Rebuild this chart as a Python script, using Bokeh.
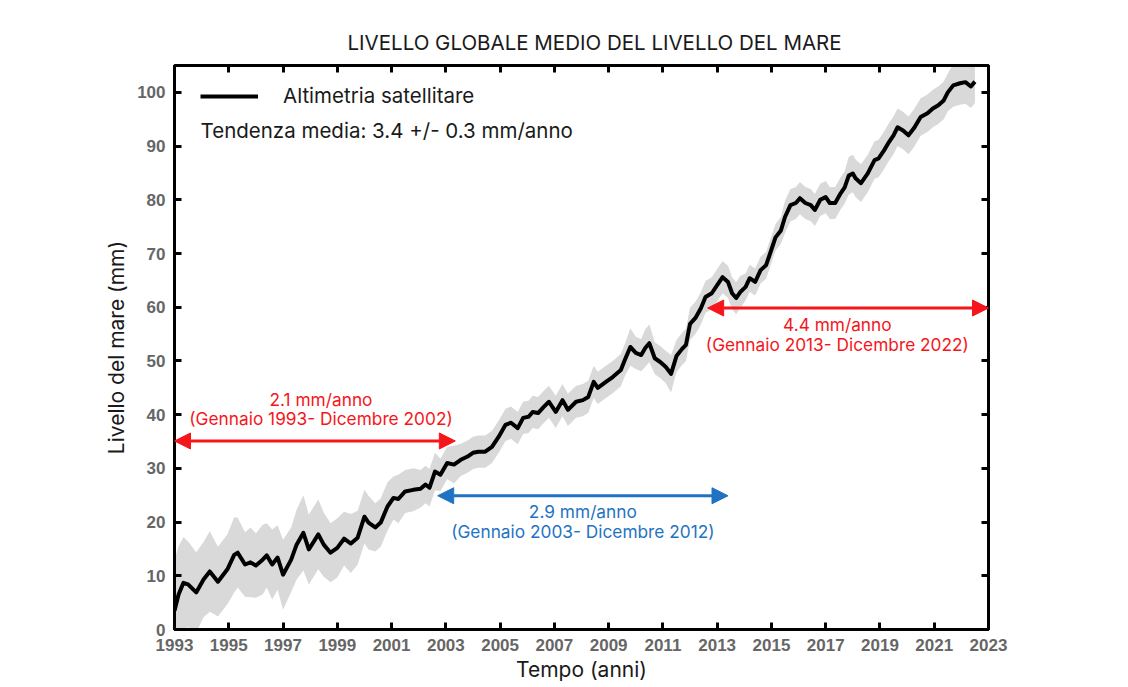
from bokeh.plotting import figure
from bokeh.models import (Range1d, LinearAxis, FixedTicker, Legend, LegendItem,
                          Arrow, NormalHead, Label, ColumnDataSource,
                          CustomJSTickFormatter)
from bokeh.embed import file_html
from bokeh.resources import INLINE

# ---------------- data ----------------
years = [1993.0, 1993.15, 1993.33, 1993.5, 1993.8, 1994.07, 1994.3, 1994.6, 1994.95, 1995.2,
         1995.33, 1995.6, 1995.8, 1996.0, 1996.25, 1996.4, 1996.6, 1996.8, 1997.0, 1997.3,
         1997.5, 1997.75, 1997.95, 1998.3, 1998.5, 1998.75, 1999.0, 1999.25, 1999.5, 1999.75,
         2000.0, 2000.15, 2000.4, 2000.6, 2000.85, 2001.07, 2001.25, 2001.5, 2001.8, 2002.07,
         2002.25, 2002.4, 2002.5, 2002.6, 2002.8, 2003.05, 2003.3, 2003.55, 2003.8, 2004.0,
         2004.2, 2004.45, 2004.7, 2004.95, 2005.2, 2005.4, 2005.65, 2005.85, 2006.05, 2006.2,
         2006.4, 2006.6, 2006.8, 2007.05, 2007.3, 2007.5, 2007.8, 2008.05, 2008.25, 2008.45,
         2008.6, 2008.9, 2009.15, 2009.45, 2009.6, 2009.8, 2010.0, 2010.2, 2010.35, 2010.5,
         2010.7, 2010.9, 2011.1, 2011.3, 2011.5, 2011.7, 2011.85, 2012.0, 2012.2, 2012.4,
         2012.57, 2012.8, 2013.05, 2013.2, 2013.4, 2013.55, 2013.7, 2013.85, 2014.05, 2014.2,
         2014.4, 2014.6, 2014.8, 2014.95, 2015.15, 2015.35, 2015.5, 2015.7, 2015.9, 2016.05,
         2016.25, 2016.45, 2016.6, 2016.8, 2017.0, 2017.15, 2017.35, 2017.55, 2017.7, 2017.85,
         2018.0, 2018.1, 2018.3, 2018.55, 2018.8, 2018.95, 2019.15, 2019.3, 2019.5, 2019.65,
         2019.85, 2020.05, 2020.25, 2020.5, 2020.75, 2020.95, 2021.15, 2021.35, 2021.5, 2021.7,
         2021.95, 2022.15, 2022.35, 2022.5]

sea_level_mm = [3.5, 6.5, 8.7, 8.4, 6.9, 9.3, 10.8, 8.9, 11.2, 13.9,
                14.3, 12.1, 12.5, 11.9, 13.0, 13.8, 12.1, 13.4, 10.2, 13.0,
                15.8, 18.0, 14.9, 17.7, 15.8, 14.3, 15.2, 16.9, 16.0, 17.1,
                21.0, 19.9, 19.0, 19.9, 22.9, 24.5, 24.3, 25.7, 26.0, 26.2,
                27.0, 26.4, 27.9, 29.4, 28.8, 31.0, 30.7, 31.6, 32.2, 32.9,
                33.1, 33.1, 34.0, 35.9, 38.1, 38.5, 37.5, 39.4, 39.6, 40.5,
                40.3, 41.4, 42.4, 40.5, 42.7, 40.9, 42.4, 42.7, 43.3, 46.1,
                45.0, 46.1, 47.0, 48.3, 50.2, 52.6, 51.5, 51.1, 52.4, 53.3,
                50.5, 49.8, 48.9, 47.6, 50.9, 52.2, 53.0, 56.9, 58.0, 59.8,
                61.9, 62.6, 64.5, 65.6, 64.7, 62.6, 61.7, 62.8, 63.8, 65.4,
                64.7, 66.9, 67.8, 70.0, 73.0, 74.3, 76.8, 79.0, 79.4, 80.3,
                79.4, 79.0, 78.1, 80.0, 80.5, 79.4, 79.4, 81.2, 82.3, 84.5,
                84.9, 84.0, 83.1, 84.9, 87.4, 87.7, 89.2, 90.5, 92.0, 93.5,
                92.9, 92.0, 93.3, 95.4, 96.1, 97.0, 97.6, 98.5, 100.0, 101.3,
                101.7, 101.9, 101.1, 102.0]

uncertainty_mm = [9.5, 9.0, 8.5, 8.0, 7.5, 7.0, 7.5, 6.5, 6.5, 7.0,
                  6.5, 6.0, 6.5, 6.0, 6.5, 6.0, 6.5, 6.0, 6.5, 6.0,
                  6.5, 7.0, 6.5, 6.5, 6.0, 5.5, 5.5, 5.0, 5.5, 5.0,
                  5.0, 5.0, 4.5, 4.5, 4.5, 4.0, 4.5, 4.0, 4.0, 3.5,
                  3.5, 3.5, 3.5, 3.5, 3.0, 3.0, 3.5, 3.0, 3.0, 3.0,
                  3.0, 3.0, 3.0, 3.0, 3.0, 3.0, 3.0, 3.0, 3.0, 3.0,
                  3.0, 3.0, 3.0, 3.0, 3.0, 3.0, 3.0, 3.0, 3.0, 3.0,
                  3.0, 3.0, 3.0, 3.0, 3.0, 3.5, 3.0, 3.0, 3.5, 3.5,
                  3.0, 3.0, 3.0, 3.5, 3.0, 3.0, 3.0, 3.0, 3.0, 3.0,
                  3.0, 3.0, 3.0, 3.0, 3.0, 3.0, 3.0, 3.0, 2.5, 2.5,
                  2.5, 2.5, 2.5, 2.5, 2.5, 2.5, 3.0, 3.0, 3.0, 3.0,
                  3.0, 3.0, 3.0, 3.0, 3.0, 3.0, 3.0, 3.0, 3.0, 3.5,
                  3.5, 3.5, 3.5, 3.5, 3.5, 3.5, 3.5, 3.5, 3.5, 3.5,
                  3.5, 3.5, 3.5, 3.5, 3.5, 3.5, 3.5, 3.5, 3.5, 4.0,
                  4.0, 4.0, 4.0, 4.0]

x_ticks = [1993, 1995, 1997, 1999, 2001, 2003, 2005, 2007, 2009, 2011, 2013, 2015,
           2017, 2019, 2021, 2023]
y_ticks = [0, 10, 20, 30, 40, 50, 60, 70, 80, 90, 100]

# trend annotations
trend_rates = ["2.1 mm/anno", "2.9 mm/anno", "4.4 mm/anno"]
trend_periods = ["(Gennaio 1993- Dicembre 2002)", "(Gennaio 2003- Dicembre 2012)",
                 "(Gennaio 2013- Dicembre 2022)"]
arrow_x_start = [1993.0, 2002.7, 2012.65]
arrow_x_end = [2003.35, 2013.4, 2023.0]
arrow_y = [35.1, 24.9, 59.85]
text_x = [1998.4, 2008.05, 2017.43]
rate_y = [42.9, 21.9, 56.7]
period_y = [39.3, 18.2, 53.0]
trend_colors = ["#f5161b", "#1f73c2", "#f5161b"]

title_text = "LIVELLO GLOBALE MEDIO DEL LIVELLO DEL MARE"
x_label = "Tempo (anni)"
y_label = "Livello del mare (mm)"
legend_label = "Altimetria satellitare"
trend_text = "Tendenza media: 3.4 +/- 0.3 mm/anno"
trend_text_pos = (1993.96, 92.9)

# ---------------- plot ----------------
lower = [v - u for v, u in zip(sea_level_mm, uncertainty_mm)]
upper = [v + u for v, u in zip(sea_level_mm, uncertainty_mm)]
src = ColumnDataSource(dict(x=years, y=sea_level_mm, lo=lower, hi=upper))

FONT = "Inter"
W, H = 1120, 685
FRAME_BOTTOM = 629

p = figure(width=W, height=H, output_backend="svg", toolbar_location=None,
           x_range=Range1d(1993, 2023), y_range=Range1d(0, 105),
           min_border_left=174, min_border_right=W - 988, min_border_top=65,
           min_border_bottom=H - FRAME_BOTTOM, background_fill_color="white",
           border_fill_color="white")

p.title.text = title_text
p.title.align = "left"
p.title.offset = 173
p.title.text_font = FONT
p.title.text_font_size = "20.5px"
p.title.text_font_style = "normal"
p.title.text_color = "#1a1a1a"
p.title.standoff = 21

p.xgrid.visible = False
p.ygrid.visible = False
p.outline_line_color = "black"
p.outline_line_width = 3
p.outline_line_alpha = 0.9

p.varea(x="x", y1="lo", y2="hi", source=src, fill_color="#d9d9d9", fill_alpha=1.0)
line_r = p.line(x="x", y="y", source=src, line_color="black", line_width=4,
                line_join="round")


def style_axis(ax):
    ax.axis_line_color = "black"
    ax.axis_line_width = 3
    ax.major_tick_in = 7
    ax.major_tick_out = 0
    ax.minor_tick_in = 0
    ax.minor_tick_out = 0
    ax.major_tick_line_width = 3
    ax.major_tick_line_color = "black"
    ax.major_label_text_font = "Liberation Sans"
    ax.major_label_text_font_style = "bold"
    ax.major_label_text_color = "#666666"
    ax.major_label_text_font_size = "17px"
    ax.axis_label_text_font = FONT
    ax.axis_label_text_font_style = "normal"
    ax.axis_label_text_font_size = "21px"
    ax.axis_label_text_color = "#1a1a1a"


xax = p.xaxis[0]
xax.ticker = FixedTicker(ticks=x_ticks)
style_axis(xax)
xax.major_label_standoff = 9
xax.axis_label = x_label
xax.axis_label_standoff = 3

yax = p.yaxis[0]
yax.ticker = FixedTicker(ticks=y_ticks)
style_axis(yax)
yax.major_label_standoff = 9
yax.axis_label = y_label
yax.axis_label_standoff = 5

blank = CustomJSTickFormatter(code="return '';")

top_ax = LinearAxis(ticker=FixedTicker(ticks=x_ticks), formatter=blank)
style_axis(top_ax)
top_ax.major_label_standoff = 0
p.add_layout(top_ax, "above")

right_ax = LinearAxis(ticker=FixedTicker(ticks=y_ticks), formatter=blank)
style_axis(right_ax)
right_ax.major_label_standoff = 0
p.add_layout(right_ax, "right")

# legend
legend = Legend(items=[LegendItem(label=legend_label, renderers=[line_r])],
                location=(26, 521), orientation="vertical")
legend.border_line_color = None
legend.background_fill_alpha = 0
legend.padding = 0
legend.margin = 0
legend.glyph_width = 58
legend.glyph_height = 20
legend.label_height = 20
legend.label_standoff = 25
legend.label_text_font = FONT
legend.label_text_font_size = "20.5px"
legend.label_text_color = "#1a1a1a"
p.add_layout(legend)

p.add_layout(Label(x=trend_text_pos[0], y=trend_text_pos[1], text=trend_text,
                   text_font=FONT, text_font_size="20.5px", text_color="#1a1a1a",
                   text_align="left", text_baseline="middle"))

for i in range(3):
    c = trend_colors[i]
    p.add_layout(Arrow(
        start=NormalHead(size=16, fill_color=c, line_color=c),
        end=NormalHead(size=16, fill_color=c, line_color=c),
        x_start=arrow_x_start[i], x_end=arrow_x_end[i],
        y_start=arrow_y[i], y_end=arrow_y[i],
        line_color=c, line_width=3))
    p.add_layout(Label(x=text_x[i], y=rate_y[i], text=trend_rates[i],
                       text_font=FONT, text_font_size="17.3px", text_color=c,
                       text_align="center", text_baseline="middle"))
    p.add_layout(Label(x=text_x[i], y=period_y[i], text=trend_periods[i],
                       text_font=FONT, text_font_size="17.3px", text_color=c,
                       text_align="center", text_baseline="middle"))

open("out.html", "w").write(file_html(p, INLINE))
